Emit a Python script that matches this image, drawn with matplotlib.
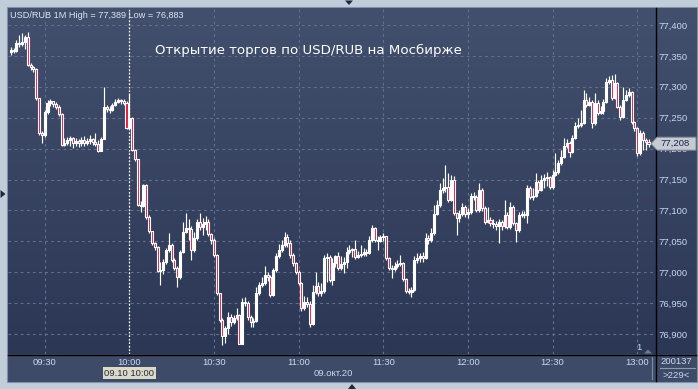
import numpy as np
import matplotlib
matplotlib.use("Agg")
import matplotlib.pyplot as plt
from matplotlib.patches import Rectangle, Polygon
from matplotlib.colors import LinearSegmentedColormap

plt.rcParams['font.family'] = ['Liberation Sans', 'DejaVu Sans']

# ---------------- data ----------------
start_time = "09:18"
first_open = 77.356
close = [
    77.360, 77.358, 77.371, 77.369, 77.373, 77.381, 77.335, 77.332, 77.329, 77.282,
    77.225, 77.222, 77.259, 77.274, 77.277, 77.272, 77.267, 77.256, 77.206, 77.209,
    77.214, 77.217, 77.209, 77.212, 77.209, 77.214, 77.209, 77.212, 77.216, 77.211,
    77.208, 77.196, 77.216, 77.267, 77.264, 77.263, 77.271, 77.276, 77.279, 77.277,
    77.274, 77.233, 77.250, 77.198, 77.183, 77.109, 77.107, 77.141, 77.089, 77.067,
    77.047, 77.041, 77.002, 77.004, 77.017, 77.036, 77.044, 77.020, 77.007, 76.992,
    77.033, 77.065, 77.072, 77.070, 77.036, 77.055, 77.081, 77.073, 77.078, 77.081,
    77.062, 77.052, 77.028, 76.966, 76.923, 76.897, 76.910, 76.928, 76.920, 76.926,
    76.931, 76.884, 76.952, 76.950, 76.928, 76.920, 76.921, 76.966, 76.979, 76.983,
    76.996, 76.992, 76.963, 77.004, 77.026, 77.036, 77.044, 77.057, 77.047, 77.028,
    77.015, 77.000, 76.983, 76.942, 76.952, 76.949, 76.916, 76.968, 76.978, 76.966,
    76.970, 77.023, 77.025, 76.988, 77.015, 77.026, 77.007, 77.013, 77.017, 77.033,
    77.036, 77.038, 77.025, 77.028, 77.030, 77.033, 77.031, 77.052, 77.072, 77.052,
    77.051, 77.057, 77.059, 77.023, 77.007, 77.005, 77.010, 77.013, 77.015, 76.989,
    76.970, 76.968, 76.971, 77.020, 77.023, 77.026, 77.023, 77.055, 77.052, 77.064,
    77.094, 77.109, 77.133, 77.136, 77.138, 77.117, 77.149, 77.096, 77.088, 77.094,
    77.106, 77.094, 77.098, 77.123, 77.122, 77.101, 77.133, 77.104, 77.081, 77.085,
    77.080, 77.078, 77.075, 77.081, 77.075, 77.093, 77.073, 77.106, 77.080, 77.068,
    77.093, 77.094, 77.093, 77.136, 77.122, 77.123, 77.146, 77.133, 77.149, 77.153,
    77.154, 77.138, 77.157, 77.162, 77.177, 77.187, 77.204, 77.209, 77.195, 77.217,
    77.237, 77.238, 77.242, 77.279, 77.271, 77.276, 77.242, 77.274, 77.258, 77.261,
    77.276, 77.308, 77.311, 77.282, 77.306, 77.267, 77.251, 77.279, 77.287, 77.292,
    77.243, 77.233, 77.193, 77.225, 77.214, 77.211, 77.208]
high = [
    77.364, 77.363, 77.376, 77.384, 77.387, 77.384, 77.389, 77.339, 77.334, 77.330,
    77.282, 77.229, 77.263, 77.279, 77.280, 77.277, 77.276, 77.271, 77.258, 77.217,
    77.219, 77.220, 77.219, 77.217, 77.216, 77.219, 77.220, 77.217, 77.222, 77.217,
    77.225, 77.214, 77.219, 77.300, 77.271, 77.269, 77.274, 77.280, 77.282, 77.280,
    77.280, 77.277, 77.290, 77.251, 77.199, 77.183, 77.115, 77.143, 77.143, 77.093,
    77.067, 77.049, 77.043, 77.017, 77.021, 77.039, 77.064, 77.047, 77.023, 77.010,
    77.036, 77.081, 77.096, 77.086, 77.075, 77.065, 77.086, 77.096, 77.088, 77.091,
    77.086, 77.064, 77.055, 77.030, 76.965, 76.926, 76.913, 76.936, 76.932, 76.931,
    76.942, 76.932, 76.958, 76.960, 76.954, 76.931, 76.926, 76.976, 76.984, 76.992,
    77.010, 77.000, 76.996, 77.007, 77.031, 77.046, 77.052, 77.065, 77.062, 77.052,
    77.031, 77.017, 77.004, 76.984, 76.962, 76.960, 76.954, 76.979, 77.000, 76.984,
    76.983, 77.028, 77.031, 77.028, 77.023, 77.028, 77.033, 77.026, 77.025, 77.041,
    77.044, 77.039, 77.052, 77.034, 77.044, 77.039, 77.038, 77.059, 77.076, 77.073,
    77.059, 77.060, 77.064, 77.059, 77.025, 77.012, 77.017, 77.020, 77.028, 77.017,
    76.991, 76.975, 76.976, 77.026, 77.031, 77.031, 77.033, 77.064, 77.060, 77.072,
    77.109, 77.117, 77.144, 77.153, 77.174, 77.161, 77.157, 77.156, 77.098, 77.101,
    77.112, 77.109, 77.104, 77.128, 77.130, 77.125, 77.144, 77.136, 77.107, 77.106,
    77.089, 77.086, 77.083, 77.086, 77.085, 77.117, 77.098, 77.114, 77.109, 77.081,
    77.098, 77.099, 77.099, 77.141, 77.140, 77.136, 77.161, 77.149, 77.157, 77.159,
    77.162, 77.156, 77.165, 77.193, 77.182, 77.198, 77.217, 77.216, 77.212, 77.222,
    77.243, 77.250, 77.263, 77.295, 77.290, 77.284, 77.279, 77.290, 77.279, 77.269,
    77.280, 77.314, 77.318, 77.319, 77.321, 77.308, 77.271, 77.300, 77.295, 77.298,
    77.293, 77.245, 77.235, 77.230, 77.229, 77.217, 77.216]
low = [
    77.352, 77.355, 77.356, 77.364, 77.366, 77.361, 77.334, 77.327, 77.324, 77.279,
    77.222, 77.209, 77.219, 77.256, 77.269, 77.267, 77.264, 77.253, 77.204, 77.204,
    77.206, 77.204, 77.201, 77.204, 77.203, 77.204, 77.204, 77.206, 77.208, 77.206,
    77.204, 77.195, 77.196, 77.216, 77.259, 77.258, 77.261, 77.269, 77.274, 77.272,
    77.271, 77.232, 77.232, 77.196, 77.180, 77.107, 77.098, 77.106, 77.086, 77.064,
    77.044, 77.036, 77.000, 76.979, 76.997, 77.013, 77.033, 77.017, 77.004, 76.976,
    76.989, 77.031, 77.064, 77.052, 77.020, 77.033, 77.052, 77.068, 77.060, 77.068,
    77.059, 77.046, 77.025, 76.963, 76.920, 76.883, 76.886, 76.900, 76.913, 76.916,
    76.923, 76.884, 76.884, 76.945, 76.923, 76.911, 76.911, 76.920, 76.963, 76.976,
    76.979, 76.986, 76.960, 76.962, 77.000, 77.023, 77.033, 77.041, 77.041, 77.023,
    77.010, 76.997, 76.979, 76.937, 76.939, 76.944, 76.911, 76.915, 76.965, 76.962,
    76.962, 76.966, 76.984, 76.984, 76.979, 77.009, 77.004, 77.004, 76.999, 77.007,
    77.030, 77.025, 77.021, 77.023, 77.025, 77.026, 77.026, 77.030, 77.049, 77.049,
    77.036, 77.049, 77.051, 77.020, 77.004, 76.991, 77.002, 77.007, 77.010, 76.986,
    76.966, 76.965, 76.960, 76.970, 77.015, 77.017, 77.017, 77.021, 77.046, 77.049,
    77.060, 77.093, 77.106, 77.128, 77.130, 77.114, 77.115, 77.093, 77.060, 77.081,
    77.091, 77.089, 77.088, 77.094, 77.117, 77.098, 77.098, 77.099, 77.078, 77.080,
    77.075, 77.072, 77.068, 77.047, 77.068, 77.072, 77.070, 77.070, 77.076, 77.049,
    77.065, 77.089, 77.088, 77.080, 77.119, 77.117, 77.122, 77.128, 77.132, 77.136,
    77.140, 77.135, 77.135, 77.156, 77.159, 77.174, 77.185, 77.201, 77.187, 77.193,
    77.216, 77.233, 77.235, 77.240, 77.267, 77.269, 77.233, 77.238, 77.254, 77.256,
    77.256, 77.274, 77.305, 77.279, 77.280, 77.266, 77.246, 77.250, 77.277, 77.284,
    77.240, 77.229, 77.188, 77.190, 77.198, 77.198, 77.203]

tick_labels = ["09:30", "10:00", "10:30", "11:00", "11:30", "12:00", "12:30", "13:00"]
y_ticks = [76.90, 76.95, 77.00, 77.05, 77.10, 77.15, 77.20, 77.25, 77.30, 77.35, 77.40]
marker_time = "10:00"
marker_label = "09.10 10:00"
date_label = "09.окт.20"
last_price = 77.208
title = "Открытие торгов по USD/RUB на Мосбирже"
header = "USD/RUB 1M High = 77,389 Low = 76,883"
volume_label = "200137"
bars_label = ">229<"
corner_label = "1"


def minutes(t):
    hh, mm = t.split(":")
    return int(hh) * 60 + int(mm)


t0 = minutes(start_time)
c = np.array(close)
h = np.array(high)
l = np.array(low)
o = np.r_[first_open, c[:-1]]
x = np.arange(len(c))

W, H = 698, 389
fig = plt.figure(figsize=(W / 100, H / 100), dpi=100)
fig.patch.set_facecolor('#c2cdda')


def rect(x0, y0, x1, y1):
    return [x0 / W, 1 - y1 / H, (x1 - x0) / W, (y1 - y0) / H]


grad = np.linspace(0, 1, 256)[:, None]
cmap = LinearSegmentedColormap.from_list('g', ['#424f6d', '#2b3755'])

# background frame
bg = fig.add_axes([0, 0, 1, 1])
bg.set_xlim(0, W); bg.set_ylim(H, 0); bg.axis('off')
bg.add_patch(Rectangle((7, 7), 690, 375, fc='#3e4b68', ec='#8391a8', lw=0.8))
tri_c = '#1c2740'
bg.add_patch(Polygon([(345, 0.5), (353, 0.5), (349, 5)], closed=True, fc=tri_c, ec='none'))
bg.add_patch(Polygon([(0.5, 190), (0.5, 198), (5.5, 194)], closed=True, fc=tri_c, ec='none'))
bg.add_patch(Polygon([(348, 389), (356, 389), (352, 384)], closed=True, fc=tri_c, ec='none'))

# right price panel
rax = fig.add_axes(rect(655, 8, 696, 354))
rax.imshow(grad, cmap=cmap, aspect='auto', extent=[0, 1, 0, 1])
rax.axis('off')

# main chart
ax = fig.add_axes(rect(8, 8, 655, 354))
xmin, xmax = -1.0, 228.3
ymin, ymax = 76.8677, 77.4275
ax.imshow(grad, cmap=cmap, aspect='auto', extent=[xmin, xmax, ymin, ymax], zorder=0)
ax.set_xlim(xmin, xmax)
ax.set_ylim(ymin, ymax)

xt = [minutes(t) - t0 for t in tick_labels]
ax.set_xticks(xt)
ax.set_xticklabels(tick_labels)
ax.set_yticks(y_ticks)
ax.set_yticklabels([f"{v:.3f}".replace('.', ',') for v in y_ticks])
ax.yaxis.tick_right()
ax.tick_params(length=0, labelsize=6.8, labelcolor='#c6daf0')
ax.tick_params(axis='x', pad=3.2)
ax.tick_params(axis='y', pad=2.3)
for s in ax.spines.values():
    s.set_visible(False)
ax.grid(True, color='#62708f', lw=0.8, ls=(0, (2.5, 3.0)))

ax.axvline(minutes(marker_time) - t0, color='white', lw=0.9, ls=(0, (1.3, 1.5)), zorder=2.5)

# candles
up = c >= o
wick_lo = np.minimum(l, np.minimum(o, c))
wick_hi = np.maximum(h, np.maximum(o, c))
ax.vlines(x, wick_lo, wick_hi, color='white', lw=0.85, zorder=3)
ax.bar(x, np.abs(c - o), bottom=np.minimum(o, c), width=0.72,
       color=np.where(up, '#ffffff', '#e8143c'), edgecolor='white', linewidth=0.8, zorder=4)

# overlay
ov = fig.add_axes([0, 0, 1, 1])
ov.set_xlim(0, W); ov.set_ylim(H, 0); ov.axis('off')
ov.patch.set_alpha(0)
ov.plot([655.5, 655.5], [8, 381], color='black', lw=1.0)
ov.plot([8, 696], [354.5, 354.5], color='black', lw=1.0)
ov.plot([652, 652], [357, 379], color='#7f8ca2', lw=0.8)
ov.add_patch(Polygon([(644, 353.5), (652, 353.5), (648, 349.5)], closed=True, fc='#6f7c95', ec='none'))

lbl = '#c6daf0'
ov.text(10, 15.5, header, fontsize=6.6, color='#dde6f0', ha='left', va='center')
ov.text(308, 50.5, title, fontsize=9.6, color='white', ha='center', va='center',
        family=['DejaVu Sans'])
ov.text(129.5, 373, marker_label, fontsize=6.8, color='#1e2b45', ha='center', va='center',
        bbox=dict(boxstyle='square,pad=0.2', fc='#dcdac6', ec='none'))
ov.text(333, 373, date_label, fontsize=6.8, color=lbl, ha='center', va='center')
ov.text(676, 362, volume_label, fontsize=6.8, color=lbl, ha='center', va='center')
ov.plot([660, 695], [368, 368], color='#8c9ab0', lw=0.8)
ov.text(676, 375, bars_label, fontsize=6.8, color=lbl, ha='center', va='center')
ov.text(639, 348, corner_label, fontsize=6.8, color=lbl, ha='center', va='center')

# last price box (covers the 77,200 tick label, as in the original terminal)
yp = 8 + (ymax - last_price) / (ymax - ymin) * (354 - 8)
ov.add_patch(Polygon([(651, yp), (657, yp - 6.5), (696, yp - 6.5), (696, yp + 6.5), (657, yp + 6.5)],
                     closed=True, fc='#c6cbd3', ec='#7d8798', lw=0.7, zorder=5))
ov.text(660, yp, f"{last_price:.3f}".replace('.', ','), fontsize=6.8, color='#17264a',
        ha='left', va='center', zorder=6)

fig.savefig('out.png', dpi=100)
